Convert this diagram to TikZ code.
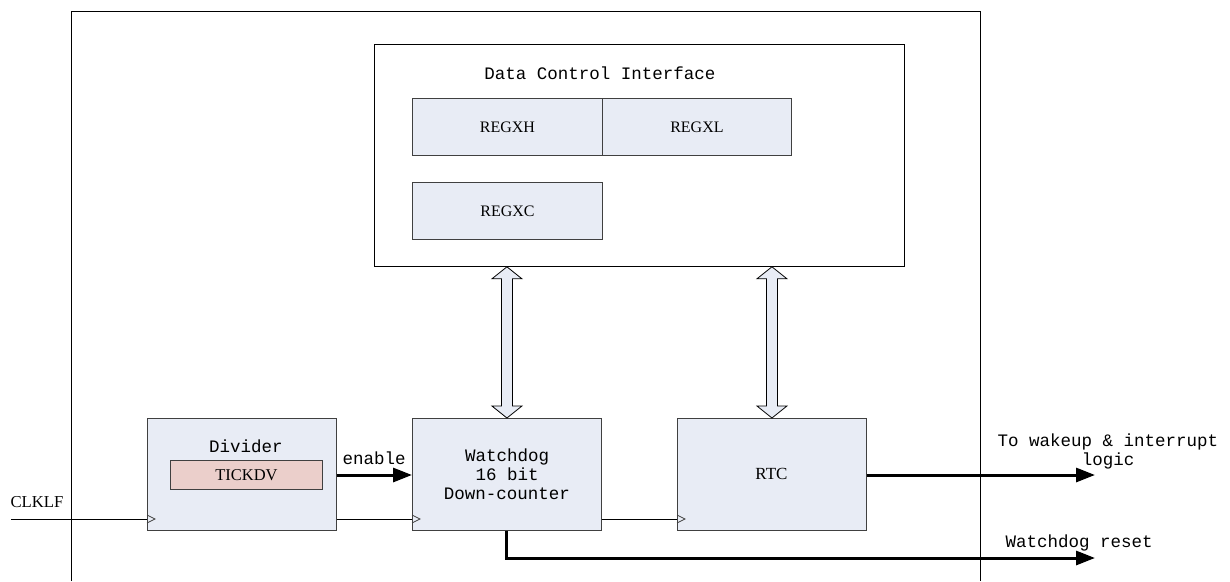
\documentclass[tikz,border=0pt]{standalone}
\usepackage{fontspec}
\setmainfont{Liberation Serif}
\newfontfamily\monof{Liberation Mono}
\usetikzlibrary{arrows.meta,calc}
\definecolor{boxfill}{HTML}{E8ECF5}
\definecolor{tickfill}{HTML}{EBCFCB}
\definecolor{boxline}{HTML}{404040}
\tikzset{
  blk/.style={draw=boxline, fill=boxfill, line width=0.9pt, minimum width=189pt, minimum height=112pt, inner sep=0pt},
  reg/.style={draw=boxline, fill=boxfill, line width=0.9pt, minimum width=190pt, minimum height=57pt, inner sep=0pt, font=\fontsize{16}{19}\selectfont},
  mono/.style={font=\monof\fontsize{17.5}{19}\selectfont},
  thin/.style={line width=0.8pt},
  thickarrow/.style={line width=3pt, -{Triangle[length=19pt,width=14pt]}},
  dbl/.style={draw=black, fill=boxfill, line width=0.8pt, line join=miter},
  clk/.style={draw=boxline, line width=0.7pt}
}
\begin{document}
\begin{tikzpicture}[x=1pt,y=-1pt]
\useasboundingbox (0,0) rectangle (1230,581);
% outer frame
\draw[thin] (71.5,581) -- (71.5,11.5) -- (980,11.5) -- (980,581);
% data control interface
\node[draw, thin, minimum width=530pt, minimum height=222pt, inner sep=0pt, anchor=north west] (dci) at (374,44) {};
\node[mono] (dcit) at (600,73) {Data Control Interface};
\node[reg, anchor=north west] (regxh) at (412,98) {REGXH};
\node[reg, anchor=north west, minimum width=189pt] (regxl) at (602,98) {REGXL};
\node[reg, anchor=north west] (regxc) at (412,182) {REGXC};
% blocks
\node[blk, anchor=north west] (div) at (147,418) {};
\node[mono] (divt) at (246,446) {Divider};
\node[draw=boxline, fill=tickfill, line width=0.9pt, minimum width=152pt, minimum height=29pt, inner sep=0pt, anchor=north west, font=\fontsize{16.5}{19}\selectfont] (tick) at (170,460) {TICKDV};
\node[blk, anchor=north west] (wd) at (412,418) {};
\node[mono, align=center] (wdt) at (507,474) {Watchdog\\16 bit\\Down-counter};
\node[blk, anchor=north west] (rtc) at (677,418) {};
\node[font=\fontsize{17}{19}\selectfont] (rtct) at (771.5,474) {RTC};
% clock inputs
\coordinate (clkin) at (11,519);
\node[font=\fontsize{16.7}{19}\selectfont] (clklf) at (37,502) {CLKLF};
\draw[thin] (clkin) -- (div.west |- 0,519);
\draw[thin] (div.east |- 0,519) -- (wd.west |- 0,519);
\draw[thin] (wd.east |- 0,519) -- (rtc.west |- 0,519);
\foreach \b in {div,wd,rtc}{
  \draw[clk] (\b.west |- 0,515) -- ++(8,4) -- ++(-8,4);
}
% enable
\draw[thickarrow] (div.east |- 0,475) -- (wd.west |- 0,475);
\node[mono] (en) at (374,458) {enable};
% outputs
\coordinate (wake) at (1095,475);
\coordinate (rst) at (1095,558);
\draw[thickarrow] (rtc.east |- wake) -- (wake);
\draw[line width=3pt, line join=miter] (wd.south) -- (wd.south |- rst) -- ++(560,0);
\draw[thickarrow] ($(wd.south |- rst)+(500,0)$) -- (rst);
\node[mono, align=center] (wakel) at (1108,451) {To wakeup \& interrupt\\logic};
\node[mono] (rstl) at (1079,543) {Watchdog reset};
% double arrows
\foreach \b in {wd,rtc}{
  \path let \p1=(\b.north), \p2=(dci.south) in
    coordinate (top) at (\x1,\y2);
  \draw[dbl] (\b.north) -- ++(-15,-12) -- ++(9.5,0) |- ($(top)+(-5.5,12)$) -- ++(-9.5,0) -- (top)
     -- ++(15,12) -- ++(-9.5,0) |- ($(\b.north)+(5.5,-12)$) -- ++(9.5,0) -- cycle;
}
\end{tikzpicture}
\end{document}
